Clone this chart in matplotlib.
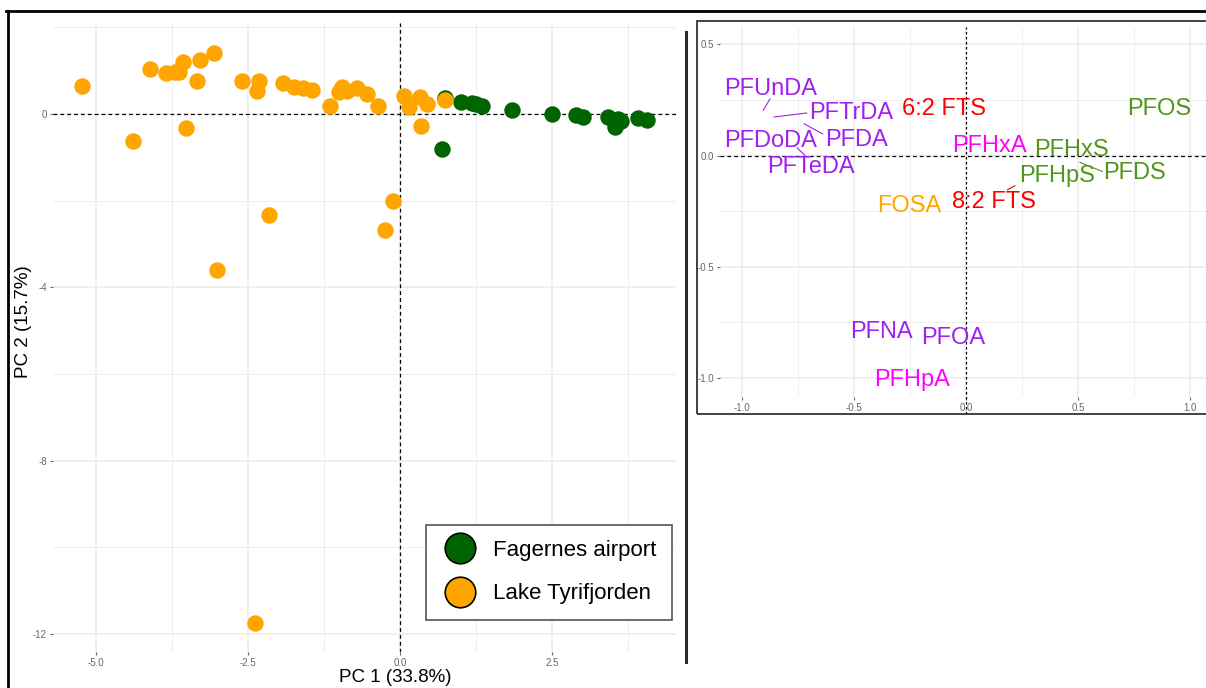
import matplotlib
matplotlib.use("Agg")
import matplotlib.pyplot as plt
from matplotlib.lines import Line2D
from matplotlib.patches import Rectangle

plt.rcParams['font.family'] = ['Liberation Sans', 'DejaVu Sans']

# Puntuaciones del PCA (muestras)
fag_pc1 = [0.73, 1.00, 1.18, 1.25, 1.34, 1.83, 2.49, 2.88, 3.01, 3.41, 3.51, 3.53, 3.63, 3.58, 3.91, 4.05, 0.68]
fag_pc2 = [0.38, 0.27, 0.25, 0.22, 0.19, 0.09, 0.00, -0.02, -0.08, -0.08, -0.17, -0.29, -0.17, -0.12, -0.09, -0.14, -0.82]

tyr_pc1 = [-5.23, -4.10, -3.85, -3.70, -3.63, -3.56, -3.34, -3.28, -3.06, -3.52, -4.38,
           -2.60, -2.32, -2.35, -1.93, -1.74, -1.59, -1.44, -1.15, -1.00, -0.95, -0.87,
           -0.71, -0.55, -0.37, 0.06, 0.15, 0.33, 0.44, 0.34, 0.73,
           -0.12, -2.16, -0.25, -3.01, -2.38]
tyr_pc2 = [0.65, 1.04, 0.94, 0.98, 0.96, 1.19, 0.77, 1.25, 1.40, -0.33, -0.62,
           0.77, 0.77, 0.54, 0.71, 0.63, 0.60, 0.55, 0.19, 0.50, 0.62, 0.54,
           0.60, 0.46, 0.19, 0.42, 0.15, 0.40, 0.23, -0.27, 0.32,
           -2.00, -2.33, -2.68, -3.60, -11.76]

# Cargas (variables) y posicion de las etiquetas
var_names = ["PFUnDA", "PFTrDA", "6:2 FTS", "PFOS", "PFDoDA", "PFDA", "PFHxA", "PFHxS",
             "PFTeDA", "PFHpS", "PFDS", "FOSA", "8:2 FTS", "PFNA", "PFOA", "PFHpA"]
lab_x = [-0.872, -0.513, -0.097, 0.865, -0.874, -0.488, 0.104, 0.472,
         -0.693, 0.405, 0.753, -0.254, 0.125, -0.379, -0.057, -0.242]
lab_y = [0.300, 0.190, 0.210, 0.210, 0.064, 0.072, 0.042, 0.024,
         -0.051, -0.093, -0.078, -0.228, -0.210, -0.793, -0.821, -1.009]
var_colors = ["#A020F0", "#A020F0", "#FF0000", "#4F961A", "#A020F0", "#A020F0", "#FF00FF", "#4F961A",
              "#A020F0", "#4F961A", "#4F961A", "#FFA500", "#FF0000", "#A020F0", "#A020F0", "#FF00FF"]

# Lineas de ggrepel: (carga real) -> (borde de la etiqueta)
seg_names = ["PFUnDA", "PFTrDA", "PFDA", "PFTeDA", "PFDS", "8:2 FTS"]
seg_x0 = [-0.905, -0.857, -0.723, -0.753, 0.509, 0.186]
seg_y0 = [0.204, 0.174, 0.144, 0.035, -0.030, -0.153]
seg_x1 = [-0.875, -0.711, -0.640, -0.719, 0.609, 0.219]
seg_y1 = [0.255, 0.192, 0.098, 0.001, -0.071, -0.135]

W, H = 1206, 688


def fx(px):
    return px / W


def fy(py):
    return 1 - py / H


fig = plt.figure(figsize=(W / 100, H / 100), dpi=100)

grid_c = "#EBEBEB"
tick_c = "#666666"

##########################
# Panel izquierdo: scores
##########################
ax1 = fig.add_axes([fx(53), fy(652), fx(676) - fx(53), fy(23) - fy(652)])
ax1.set_xlim(-5.70, 4.53)
ax1.set_ylim(-12.42, 2.1)
ax1.set_xticks([-5.0, -2.5, 0.0, 2.5])
ax1.set_xticklabels(["-5.0", "-2.5", "0.0", "2.5"])
ax1.set_xticks([-3.75, -1.25, 1.25, 3.75], minor=True)
ax1.set_yticks([0, -4, -8, -12])
ax1.set_yticklabels(["0", "-4", "-8", "-12"])
ax1.set_yticks([2, -2, -6, -10], minor=True)
ax1.grid(True, which="major", color=grid_c, lw=1.1, zorder=0)
ax1.grid(True, which="minor", color=grid_c, lw=0.6, zorder=0)
ax1.tick_params(which="major", length=2.5, width=0.8, color=tick_c, labelcolor=tick_c,
                labelsize=7, pad=2)
ax1.tick_params(which="minor", length=0)
for s in ax1.spines.values():
    s.set_visible(False)
ax1.set_axisbelow(True)

ax1.axhline(0, color="black", lw=0.9, ls=(0, (3, 2.5)), zorder=1)
ax1.axvline(0, color="black", lw=0.9, ls=(0, (3, 2.5)), zorder=1)

ax1.scatter(fag_pc1, fag_pc2, s=140, color="#006400", lw=0, zorder=3)
ax1.scatter(tyr_pc1, tyr_pc2, s=140, color="#FFA500", lw=0, zorder=3)

handles = [Line2D([], [], marker="o", ls="", markersize=22, mfc="#006400", mec="black", mew=1.2),
           Line2D([], [], marker="o", ls="", markersize=22, mfc="#FFA500", mec="black", mew=1.2)]
leg = ax1.legend(handles, ["Fagernes airport", "Lake Tyrifjorden"], loc="lower right",
                 bbox_to_anchor=(fx(672), fy(620)), bbox_transform=fig.transFigure,
                 borderaxespad=0, frameon=True, fancybox=False, edgecolor="#555555",
                 framealpha=1, fontsize=16, handletextpad=0.7, labelspacing=1.0,
                 borderpad=0.7, handlelength=1.6)
leg.get_frame().set_linewidth(1.2)

fig.text(fx(395), fy(678), "PC 1 (33.8%)", ha="center", va="center", fontsize=13.5)
fig.text(fx(24), fy(322), "PC 2 (15.7%)", ha="center", va="center", rotation=90, fontsize=13.5)

##########################
# Panel derecho: cargas
##########################
ax2 = fig.add_axes([fx(720), fy(397), fx(1230) - fx(720), fy(26.7) - fy(397)])
ax2.set_xlim(-1.098, 1.179)
ax2.set_ylim(-1.085, 0.58)
ax2.set_xticks([-1.0, -0.5, 0.0, 0.5, 1.0])
ax2.set_xticklabels(["-1.0", "-0.5", "0.0", "0.5", "1.0"])
ax2.set_xticks([-0.75, -0.25, 0.25, 0.75], minor=True)
ax2.set_yticks([0.5, 0.0, -0.5, -1.0])
ax2.set_yticklabels(["0.5", "0.0", "-0.5", "-1.0"])
ax2.set_yticks([0.25, -0.25, -0.75], minor=True)
ax2.grid(True, which="major", color=grid_c, lw=1.1, zorder=0)
ax2.grid(True, which="minor", color=grid_c, lw=0.6, zorder=0)
ax2.tick_params(which="major", length=2.5, width=0.8, color=tick_c, labelcolor=tick_c,
                labelsize=7, pad=2)
ax2.tick_params(which="minor", length=0)
for s in ax2.spines.values():
    s.set_visible(False)
ax2.set_axisbelow(True)

ax2.axhline(0, color="black", lw=0.9, ls=(0, (3, 2.5)), zorder=1)
ax2.plot([0, 0], [-1.16, 0.58], color="black", lw=0.9, ls=(0, (2, 2)), zorder=1, clip_on=False)

for n, x0, y0, x1, y1 in zip(seg_names, seg_x0, seg_y0, seg_x1, seg_y1):
    c = var_colors[var_names.index(n)]
    ax2.plot([x0, x1], [y0, y1], color=c, lw=0.8, zorder=2)

for n, x, y, c in zip(var_names, lab_x, lab_y, var_colors):
    ax2.text(x, y, n, color=c, fontsize=17, ha="center", va="center", zorder=3)

# Marcos del montaje
fig.add_artist(Rectangle((fx(697), fy(414)), fx(1215) - fx(697), fy(21) - fy(414),
                         fill=False, ec="#333333", lw=1.3, transform=fig.transFigure))
fig.add_artist(Line2D([fx(6), 1.0], [fy(10.5), fy(10.5)], lw=2, color="black"))
fig.add_artist(Line2D([fx(7.5), fx(7.5)], [0, fy(10.5)], lw=2, color="black"))
fig.add_artist(Line2D([fx(685.5), fx(685.5)], [fy(662), fy(32)], lw=2.2, color="#2b2b2b"))

fig.savefig("out.png", dpi=100)
